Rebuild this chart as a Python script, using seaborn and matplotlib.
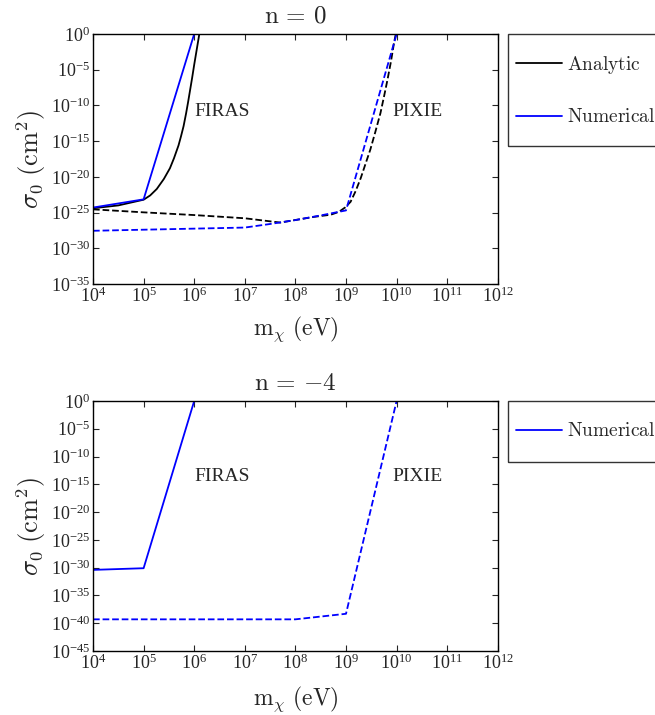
import numpy as np
import pandas as pd
import matplotlib
matplotlib.use("Agg")
import matplotlib.pyplot as plt
import seaborn as sns
from matplotlib.lines import Line2D
from matplotlib.patches import Rectangle
from matplotlib.ticker import LogLocator, LogFormatterMathtext, NullLocator

# log10 of mass (eV) and log10 of sigma_0 (cm^2)
# n = 0
firas_analytic_logm = [4.0, 4.5, 5.0, 5.13, 5.26, 5.4, 5.52, 5.6, 5.69, 5.74, 5.79,
                       5.84, 5.88, 5.92, 5.96, 6.0, 6.04, 6.08, 6.12]
firas_analytic_logs = [-24.4, -24.0, -23.2, -22.6, -21.7, -20.3, -18.8, -17.4, -15.6, -14.3, -12.9,
                       -11.1, -9.5, -7.8, -6.1, -4.3, -2.6, -0.9, 0.8]
firas_numeric_logm = [4.0, 5.0, 6.0]
firas_numeric_logs = [-24.3, -23.15, 0.0]
pixie_analytic_logm = [4.0, 5.0, 6.0, 7.0, 7.7, 8.37, 8.7, 8.86, 8.98, 9.09, 9.19, 9.29, 9.38,
                       9.48, 9.58, 9.68, 9.75, 9.82, 9.89, 9.95, 9.99]
pixie_analytic_logs = [-24.55, -24.97, -25.35, -25.8, -26.4, -25.6, -25.3, -24.9, -24.3, -23.5, -22.0, -20.2, -18.3,
                       -16.2, -13.7, -11.1, -8.8, -6.4, -3.8, -1.2, 0.2]
pixie_numeric_logm = [4.0, 7.0, 7.5, 8.0, 8.5, 9.0, 10.0]
pixie_numeric_logs = [-27.55, -27.1, -26.6, -26.05, -25.4, -24.7, 0.0]

# n = -4
firas4_numeric_logm = [4.0, 5.0, 6.0]
firas4_numeric_logs = [-30.4, -30.1, 0.0]
pixie4_numeric_logm = [4.0, 8.0, 9.0, 10.0]
pixie4_numeric_logs = [-39.3, -39.3, -38.3, 0.0]

sns.set_style("ticks")
plt.rcParams["font.family"] = ["serif"]
plt.rcParams["font.serif"] = ["Liberation Serif", "DejaVu Serif"]
plt.rcParams["mathtext.fontset"] = "cm"

BLUE = (0, 0, 1)
DASH = (3.5, 2.0)


def curve(logm, logs):
    return pd.DataFrame({"m": 10.0 ** np.array(logm), "s": 10.0 ** np.array(logs)})


def draw(ax, d, color, dashed):
    sns.lineplot(data=d, x="m", y="s", ax=ax, color=color, lw=1.3, sort=False,
                 linestyle="--" if dashed else "-",
                 dashes=DASH if dashed else None, legend=False)


def style(ax, ybot, title, xpad):
    ax.set_xscale("log")
    ax.set_yscale("log")
    ax.set_xlim(1e4, 1e12)
    ax.set_ylim(10.0 ** ybot, 1.0)
    ax.xaxis.set_major_locator(LogLocator(base=10, numticks=20))
    ax.yaxis.set_major_locator(LogLocator(base=10 ** 5, numticks=20))
    ax.xaxis.set_major_formatter(LogFormatterMathtext())
    ax.yaxis.set_major_formatter(LogFormatterMathtext())
    ax.xaxis.set_minor_locator(NullLocator())
    ax.yaxis.set_minor_locator(NullLocator())
    ax.tick_params(direction="in", top=True, right=True, labelsize=13, length=4, width=0.8, pad=2)
    for sp in ax.spines.values():
        sp.set_linewidth(1.0)
        sp.set_color("black")
    ax.set_xlabel(r"$\mathrm{m}_\chi\ (\mathrm{eV})$", fontsize=17, labelpad=xpad)
    ax.set_ylabel(r"$\sigma_0\ (\mathrm{cm}^2)$", fontsize=19, labelpad=2)
    ax.set_title(title, fontsize=18, pad=8)


def legend_box(ax, handles, labels, y_top, y_bot):
    # frameless legend centred in a hand-placed box (figure pixels 655x715)
    W, H = 655.0, 715.0
    lg = ax.legend(handles, labels, loc="center left", frameon=False,
                   bbox_to_anchor=(516 / W, 1 - (y_top + y_bot) / 2 / H),
                   bbox_transform=ax.figure.transFigure, borderaxespad=0, borderpad=0,
                   handlelength=2.34, handletextpad=0.3, labelspacing=1.68, fontsize=14)
    ax.figure.add_artist(Rectangle((508 / W, 1 - y_bot / H), 0.3, (y_bot - y_top) / H,
                                   transform=ax.figure.transFigure, fill=False,
                                   edgecolor="#333333", lw=1.0, clip_on=False))
    return lg


fig = plt.figure(figsize=(6.55, 7.15), dpi=100)
ax1 = fig.add_axes([0.142, 0.6028, 0.618, 0.3497])
ax2 = fig.add_axes([0.142, 0.0895, 0.618, 0.3497])

draw(ax1, curve(firas_analytic_logm, firas_analytic_logs), "black", False)
draw(ax1, curve(firas_numeric_logm, firas_numeric_logs), BLUE, False)
draw(ax1, curve(pixie_analytic_logm, pixie_analytic_logs), "black", True)
draw(ax1, curve(pixie_numeric_logm, pixie_numeric_logs), BLUE, True)
style(ax1, -35, r"$\mathrm{n}\,=\,0$", 6)
ax1.text(10 ** 6.0, 10 ** -10.9, "FIRAS", fontsize=14, va="center", ha="left")
ax1.text(10 ** 9.92, 10 ** -10.9, "PIXIE", fontsize=14, va="center", ha="left")

draw(ax2, curve(firas4_numeric_logm, firas4_numeric_logs), BLUE, False)
draw(ax2, curve(pixie4_numeric_logm, pixie4_numeric_logs), BLUE, True)
style(ax2, -45, r"$\mathrm{n}\,=\,{-}4$", 8)
ax2.text(10 ** 6.0, 10 ** -13.6, "FIRAS", fontsize=14, va="center", ha="left")
ax2.text(10 ** 9.92, 10 ** -13.6, "PIXIE", fontsize=14, va="center", ha="left")

h_an = Line2D([], [], color="black", lw=1.3)
h_nu = Line2D([], [], color=BLUE, lw=1.3)
legend_box(ax1, [h_an, h_nu], [r"$\mathrm{Analytic}$", r"$\mathrm{Numerical}$"], 34, 146)
legend_box(ax2, [h_nu], [r"$\mathrm{Numerical}$"], 401, 462)

fig.savefig("out.png", dpi=100)
